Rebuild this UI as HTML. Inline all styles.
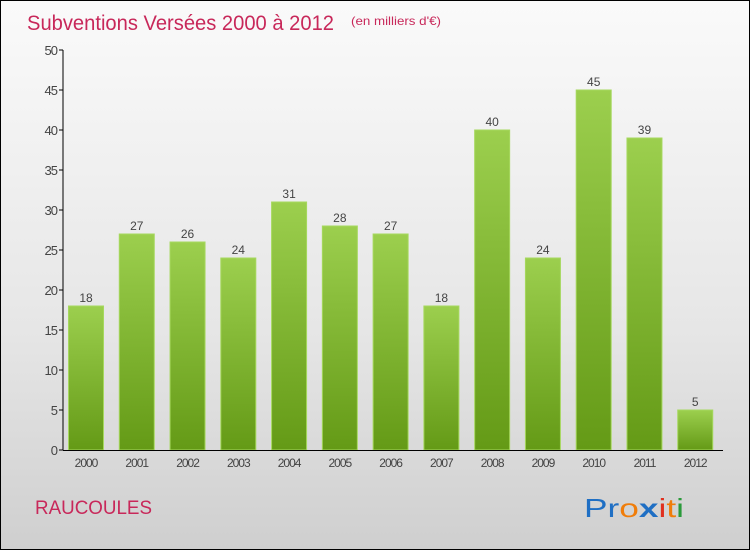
<!DOCTYPE html>
<html><head><meta charset="utf-8"><style>
body{margin:0;}
#c{position:relative;width:748px;height:548px;border:1px solid #000;background:linear-gradient(#fafafa,#e6e6e6 60%,#cfcfcf);font-family:"Liberation Sans",sans-serif;overflow:hidden}
</style></head><body>
<div id="c">
<svg width="748" height="548" id="s">
<defs><linearGradient id="g" x1="0" y1="0" x2="0" y2="1"><stop offset="0" stop-color="#9ccf4e"/><stop offset="1" stop-color="#649a16"/></linearGradient></defs>
<text x="26" y="29" font-size="21" fill="#c8285a" textLength="307" lengthAdjust="spacingAndGlyphs">Subventions Versées 2000 à 2012</text>
<text x="350" y="24" font-size="12" fill="#c8285a" textLength="90" lengthAdjust="spacingAndGlyphs">(en milliers d'€)</text>
<text x="34" y="513" font-size="19" fill="#c8285a" textLength="117" lengthAdjust="spacingAndGlyphs">RAUCOULES</text>
<text x="583" y="516" font-size="26" textLength="100" lengthAdjust="spacingAndGlyphs"><tspan fill="#1f6fc4">Pr</tspan><tspan fill="#f07d0a">o</tspan><tspan fill="#1f6fc4" font-weight="bold">x</tspan><tspan fill="#e0301e">i</tspan><tspan fill="#f07d0a">t</tspan><tspan fill="#2a9a3a">i</tspan></text>
<g id="plot"></g>
</svg>
</div>
<script>
const categories=["2000","2001","2002","2003","2004","2005","2006","2007","2008","2009","2010","2011","2012"];
const values=[18,27,26,24,31,28,27,18,40,24,45,39,5];
const yTicks=[0,5,10,15,20,25,30,35,40,45,50];
const NS="http://www.w3.org/2000/svg";
const p=document.getElementById('plot');
const x0=62,slot=50.77,y0=449,yMax=50,h=400;
const y=v=>y0-v/yMax*h;
function mk(t,a,txt){const e=document.createElementNS(NS,t);for(const k in a)e.setAttribute(k,a[k]);if(txt!=null)e.textContent=txt;p.appendChild(e);return e;}
yTicks.forEach(t=>{
 const l=mk('line',{x1:x0-4,x2:x0,y1:y(t),y2:y(t),stroke:'#000'});
 
 
 const tx=mk('text',{x:x0-6,y:y(t)+5,'font-size':13,fill:'#444','text-anchor':'end','letter-spacing':'-1'},t);
 
 
});
categories.forEach((c,i)=>{
 const bx=x0+i*slot+5.5,v=values[i];
 const r=mk('rect',{x:bx,y:y(v),width:35,height:y0-y(v),fill:'url(#g)',stroke:'#a6d85e','stroke-width':1});
 
 
 const vl=mk('text',{x:bx+17.5,y:y(v)-4,'font-size':12,fill:'#444','text-anchor':'middle'},v);
 
 
 const xl=mk('text',{x:bx+17.5,y:y0+17,'font-size':12,fill:'#444','text-anchor':'middle','letter-spacing':'-1'},c);
 
 
});
const ya=mk('line',{x1:x0,x2:x0,y1:y(50),y2:y0,stroke:'#000'});


const xa=mk('line',{x1:x0,x2:x0+13*slot,y1:y0+.5,y2:y0+.5,stroke:'#000'});


</script>
</body></html>
